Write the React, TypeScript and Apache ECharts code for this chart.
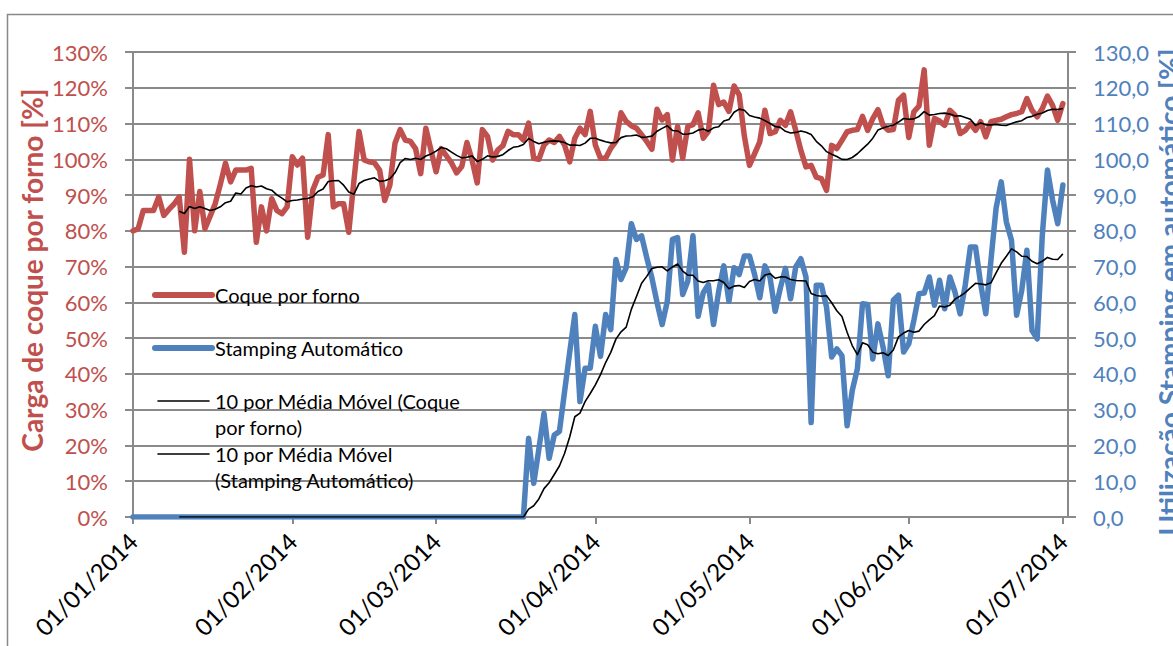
import React, { useEffect, useRef } from "react";
import * as echarts from "echarts";

// ---------- data ----------
const pad = (n: number) => (n < 10 ? "0" + n : "" + n);
const START_UTC = Date.UTC(2014, 0, 1);
const AXIS_DAYS = 183; // 01/01/2014 .. 02/07/2014 (axis span)
const dateCategories: string[] = [];
for (let i = 0; i < AXIS_DAYS; i++) {
  const d = new Date(START_UTC + i * 86400000);
  dateCategories.push(`${pad(d.getUTCDate())}/${pad(d.getUTCMonth() + 1)}/${d.getUTCFullYear()}`);
}

// Carga de coque por forno [%] (daily)
const coquePorForno: number[] = [
  80, 80.6, 85.7, 85.7, 85.7, 89.5, 84.3, 86, 87.5, 89.5,
  74, 100, 80, 91, 80.6, 84, 87.6, 93, 98.9, 93.7,
  97, 97, 97, 97.5, 76.8, 86.7, 80, 89, 85.7, 84.8,
  86.7, 100.7, 98.4, 100.3, 78.2, 91.4, 95, 95.6, 106.9, 86.7,
  87.6, 87.6, 79.6, 94, 107.8, 99.8, 99.3, 99, 97, 88.5,
  92.8, 104.5, 108.3, 105.4, 105, 103, 96, 108.7, 102.6, 96.5,
  103, 101, 99, 96.2, 98, 104.7, 99.8, 93.4, 108.3, 106.4,
  99.8, 102.6, 103.8, 107.8, 106.9, 106.9, 105.4, 110.1, 100.3, 100,
  104, 105.4, 104.7, 106.4, 104, 99.3, 105.9, 108.7, 106.9, 113.4,
  104, 100.3, 100.3, 103.1, 105, 113, 110.6, 109.4, 108.7, 106.9,
  105, 102.8, 114, 111, 112.5, 99.8, 109.2, 100.3, 109.2, 109.7,
  113, 105.9, 107.8, 120.7, 115.3, 116, 113.4, 120.5, 118, 106.5,
  98.3, 101.6, 104.9, 113.7, 107.2, 107.7, 110.9, 109.5, 113.3, 108.1,
  102.5, 97.9, 98.3, 95, 94.6, 91.3, 103.9, 103, 105.3, 107.7,
  108.1, 108.3, 112, 108.1, 111.4, 113.9, 109.5, 108.1, 108.3, 116.5,
  117.9, 106.1, 113.3, 114.9, 125, 103.9, 111.4, 110.7, 109.5, 113.7,
  112.3, 107.2, 108.1, 110, 108.1, 110.5, 106.3, 110.5, 110.9, 111.2,
  111.9, 112.5, 112.8, 113.3, 117, 113.7, 111.9, 114.2, 117.7, 115.1,
  110.9, 115.6,
];

// Utilização Stamping em automático [%] (daily)
const stampingZeros: number[] = new Array(77).fill(0);
const stampingActive: number[] = [
  22, 9.4, 19, 29, 16.4, 22.9, 23.9, 35, 46, 56.6,
  32.3, 41.6, 41.6, 53.3, 44.9, 56.6, 52.4, 72, 66.4, 69.7,
  82, 77.6, 78.6, 72.5, 66.9, 60, 53.8, 60.3, 77.6, 78.1,
  62.2, 66, 78.6, 56.1, 62.7, 65, 53.8, 63.1, 70.2, 60.3,
  69.7, 67.8, 73, 73, 67.8, 61.3, 70.2, 66.9, 57.5, 64,
  69.5, 61, 69.9, 72.2, 67.1, 26.4, 64.8, 64.8, 58.7, 44.7,
  47, 45.1, 25.5, 35.3, 41.4, 59.6, 59.4, 44.2, 54, 47.5,
  39.5, 60.6, 62, 46.1, 48.4, 55, 62.4, 62.6, 67.1, 59.2,
  66.2, 58.2, 67.1, 62.9, 56.8, 64.8, 75.5, 75.5, 65.2, 56.8,
  71.8, 86.3, 93.7, 82.5, 77.4, 56.4, 63.4, 74.6, 52.1, 49.8,
  78.8, 97, 88.6, 82, 92.8,
];
const stampingAutomatico: number[] = [...stampingZeros, ...stampingActive];

const MA_PERIOD = 10;
const movingAverage = (arr: number[]): (number | null)[] =>
  arr.map((_, i) => {
    if (i < MA_PERIOD - 1) return null;
    let s = 0;
    for (let k = i - MA_PERIOD + 1; k <= i; k++) s += arr[k];
    return +(s / MA_PERIOD).toFixed(3);
  });

const seriesNames = [
  "Coque por forno",
  "Stamping Automático",
  "10 por Média Móvel (Coque por forno)",
  "10 por Média Móvel (Stamping Automático)",
];
const legendLines: string[][] = [
  ["Coque por forno"],
  ["Stamping Automático"],
  ["10 por Média Móvel (Coque", "por forno)"],
  ["10 por Média Móvel", "(Stamping Automático)"],
];
const leftAxisTitle = "Carga de coque por forno [%]";
const rightAxisTitle = "Utilização Stamping em automático [%]";

// ---------- style ----------
const RED = "#C0504D";
const BLUE = "#4F81BD";
const GRID = "#8a8a8a";
const FONT = "Lato, 'Open Sans', sans-serif";

export default function App() {
  const ref = useRef<HTMLDivElement>(null);
  useEffect(() => {
    if (!ref.current) return;
    const chart = echarts.init(ref.current, undefined, { renderer: "svg" });
    const isMonthStart = (_i: number, v: string) => v.startsWith("01/");

    const legendY = [295, 348, 401, 454];
    const legendColors = [RED, BLUE, "#000", "#000"];
    const legendWidths = [6, 6, 1.6, 1.6];
    const LINE_H = 26;
    const graphics: any[] = [
      {
        type: "rect",
        shape: { x: 7.5, y: 14.5, width: 1300, height: 800 },
        style: { fill: "none", stroke: "#888", lineWidth: 1.5 },
        silent: true,
        z: -10,
      },
      {
        type: "text",
        x: 32,
        y: 270,
        rotation: Math.PI / 2,
        style: {
          text: leftAxisTitle,
          fill: RED,
          font: `bold 28px ${FONT}`,
          align: "center",
          verticalAlign: "middle",
        },
      },
      {
        type: "text",
        x: 1169,
        y: 292,
        rotation: Math.PI / 2,
        style: {
          text: rightAxisTitle,
          fill: BLUE,
          font: `bold 28px ${FONT}`,
          align: "center",
          verticalAlign: "middle",
        },
      },
    ];
    legendLines.forEach((lines, i) => {
      const y = legendY[i];
      const thick = legendWidths[i] > 3;
      graphics.push({
        type: "line",
        shape: { x1: thick ? 155 : 158, y1: y, x2: thick ? 212 : 209, y2: y },
        style: { stroke: legendColors[i], lineWidth: legendWidths[i], lineCap: "round" },
        z: 100,
      });
      graphics.push({
        type: "text",
        x: 215,
        y: y - LINE_H / 2,
        style: {
          text: lines.join("\n"),
          fill: "#000",
          font: `20px ${FONT}`,
          lineHeight: LINE_H,
          align: "left",
          verticalAlign: "top",
        },
        z: 100,
      });
    });

    const axisLineStyle = { color: GRID, width: 2 };
    chart.setOption({
      animation: false,
      backgroundColor: "#fff",
      grid: { left: 133, top: 52, right: 105, bottom: 129, containLabel: false },
      xAxis: {
        type: "category",
        data: dateCategories,
        boundaryGap: false,
        axisLine: { show: true, lineStyle: axisLineStyle },
        axisTick: { show: true, interval: isMonthStart, length: 7, lineStyle: axisLineStyle },
        axisLabel: {
          interval: isMonthStart,
          rotate: 45,
          color: "#000",
          fontSize: 24,
          fontFamily: FONT,
          margin: 20,
        },
        splitLine: { show: false },
      },
      yAxis: [
        {
          type: "value",
          position: "left",
          min: 0,
          max: 130,
          interval: 10,
          axisLine: { show: true, lineStyle: axisLineStyle },
          axisTick: { show: true, length: 8, lineStyle: axisLineStyle },
          axisLabel: {
            formatter: (v: number) => `${v}%`,
            color: RED,
            fontSize: 22,
            fontFamily: FONT,
            margin: 25,
          },
          splitLine: { show: true, lineStyle: { color: GRID, width: 2 } },
        },
        {
          type: "value",
          position: "right",
          min: 0,
          max: 130,
          interval: 10,
          axisLine: { show: true, lineStyle: axisLineStyle },
          axisTick: { show: true, length: 8, lineStyle: axisLineStyle },
          axisLabel: {
            formatter: (v: number) => v.toFixed(1).replace(".", ","),
            color: BLUE,
            fontSize: 22,
            fontFamily: FONT,
            margin: 25,
          },
          splitLine: { show: false },
        },
      ],
      series: [
        {
          type: "line",
          name: seriesNames[0],
          data: coquePorForno,
          yAxisIndex: 0,
          showSymbol: false,
          symbol: "none",
          lineStyle: { color: RED, width: 5.5, join: "round", cap: "round" },
          itemStyle: { color: RED },
          z: 2,
        },
        {
          type: "line",
          name: seriesNames[1],
          data: stampingAutomatico,
          yAxisIndex: 1,
          showSymbol: false,
          symbol: "none",
          lineStyle: { color: BLUE, width: 5.5, join: "round", cap: "round" },
          itemStyle: { color: BLUE },
          z: 3,
        },
        {
          type: "line",
          name: seriesNames[2],
          data: movingAverage(coquePorForno),
          yAxisIndex: 0,
          showSymbol: false,
          symbol: "none",
          lineStyle: { color: "#000", width: 1.6, join: "round" },
          itemStyle: { color: "#000" },
          z: 4,
        },
        {
          type: "line",
          name: seriesNames[3],
          data: movingAverage(stampingAutomatico),
          yAxisIndex: 1,
          showSymbol: false,
          symbol: "none",
          lineStyle: { color: "#000", width: 1.6, join: "round" },
          itemStyle: { color: "#000" },
          z: 5,
        },
      ],
      graphic: graphics,
    });
    return () => chart.dispose();
  }, []);

  return (
    <div
      ref={ref}
      style={{ position: "fixed", left: 0, top: 0, width: 1173, height: 646, background: "#fff" }}
    />
  );
}
